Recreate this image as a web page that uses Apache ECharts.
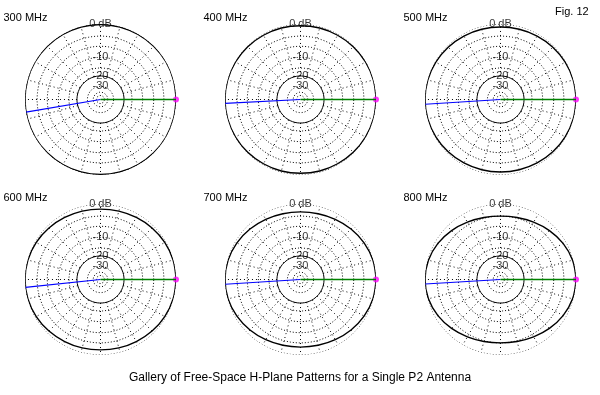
<!DOCTYPE html>
<html><head><meta charset="utf-8">
<script src="https://cdn.jsdelivr.net/npm/echarts@6/dist/echarts.min.js"></script>
<style>html,body{margin:0;padding:0;background:#fff}#c{width:600px;height:395px}</style>
</head><body><div id="c"></div>
<script>
// ---- data ----
const freqLabels = ['300 MHz','400 MHz','500 MHz','600 MHz','700 MHz','800 MHz'];
const patternAngles = [0,15,30,45,60,75,90,105,120,135,150,165,180,195,210,225,240,255,270,285,300,315,330,345,360];
// gain in dB (relative to max) read at each angle
const gain300 = [0,0,0,-0.05,-0.1,-0.1,-0.1,-0.1,-0.1,-0.05,0,0,0,0,0,-0.05,-0.1,-0.1,-0.1,-0.1,-0.1,-0.05,0,0,0];
const gain400 = [0,-0.02,-0.1,-0.2,-0.3,-0.35,-0.4,-0.35,-0.3,-0.2,-0.1,-0.02,0,-0.02,-0.1,-0.2,-0.3,-0.35,-0.4,-0.35,-0.3,-0.2,-0.1,-0.02,0];
const gain500 = [0,-0.05,-0.18,-0.35,-0.52,-0.65,-0.7,-0.65,-0.52,-0.35,-0.18,-0.05,0,-0.05,-0.18,-0.35,-0.52,-0.65,-0.7,-0.65,-0.52,-0.35,-0.18,-0.05,0];
const gain600 = [0,-0.08,-0.3,-0.6,-0.9,-1.1,-1.2,-1.1,-0.9,-0.6,-0.3,-0.08,0,-0.08,-0.3,-0.6,-0.9,-1.1,-1.2,-1.1,-0.9,-0.6,-0.3,-0.08,0];
const gain700 = [0,-0.13,-0.48,-0.95,-1.42,-1.77,-1.9,-1.77,-1.42,-0.95,-0.48,-0.13,0,-0.13,-0.48,-0.95,-1.42,-1.77,-1.9,-1.77,-1.42,-0.95,-0.48,-0.13,0];
const gain800 = [0,-0.2,-0.75,-1.5,-2.25,-2.8,-3.0,-2.8,-2.25,-1.5,-0.75,-0.2,0,-0.2,-0.75,-1.5,-2.25,-2.8,-3.0,-2.8,-2.25,-1.5,-0.75,-0.2,0];
const gains = [gain300,gain400,gain500,gain600,gain700,gain800];
const blueAngles = [189.6,183,183.6,186,183.6,183.4];   // blue cursor line direction, deg
const maxAngle = 0;                                      // direction of maximum gain, deg
const ringDb = [0,-3,-6,-10,-15,-20,-30,-40,-50];
const solidRingDb = -20;
const ringLabels = [{db:0,text:'0 dB'},{db:-10,text:'-10'},{db:-20,text:'-20'},{db:-30,text:'-30'}];
const spokeStep = 15;
const spokeInnerDb = -20;
const mainTitle = 'Gallery of Free-Space H-Plane Patterns for a Single P2 Antenna';
const figLabel = 'Fig. 12';

// ARRL log scale: radius factor 0.89 per 2 dB
const arrl = db => Math.pow(0.89, -db / 2);

const centersX = [100.5, 300.5, 500.5];
const centersY = [99.5, 279.5];
const R = 75.5;
const FONT = 'Liberation Sans, Arial, sans-serif';

const polar = [], angleAxis = [], radiusAxis = [], series = [], title = [];
gains.forEach((g, i) => {
  const cx = centersX[i % 3], cy = centersY[Math.floor(i / 3)];
  polar.push({center: [cx, cy], radius: R});
  angleAxis.push({polarIndex: i, type: 'value', min: 0, max: 360, startAngle: 0, clockwise: false,
    axisLine: {show: false}, axisTick: {show: false}, axisLabel: {show: false}, splitLine: {show: false}});
  radiusAxis.push({polarIndex: i, type: 'value', min: 0, max: 1,
    axisLine: {show: false}, axisTick: {show: false}, axisLabel: {show: false}, splitLine: {show: false}});
  // rings
  ringDb.forEach(db => {
    const pts = [];
    for (let a = 0; a <= 360; a += 1) pts.push([arrl(db), a]);
    series.push({type: 'line', coordinateSystem: 'polar', polarIndex: i, data: pts, symbol: 'none', silent: true,
      animation: false, z: 1,
      lineStyle: {color: '#000', width: 1, type: db === solidRingDb ? 'solid' : [1, 2]}});
  });
  // spokes
  for (let a = 0; a < 360; a += spokeStep) {
    series.push({type: 'line', coordinateSystem: 'polar', polarIndex: i, symbol: 'none', silent: true, animation: false, z: 1,
      data: [[arrl(spokeInnerDb), a], [1, a]], lineStyle: {color: '#000', width: 1, type: [1, 3]}});
  }
  // pattern
  series.push({type: 'line', coordinateSystem: 'polar', polarIndex: i, symbol: 'none', smooth: 0.4, animation: false, z: 3,
    data: g.map((v, k) => [arrl(v), patternAngles[k]]), lineStyle: {color: '#000', width: 1.4}});
  // blue line
  const bGain = g[Math.round((blueAngles[i] % 360) / 15)];
  series.push({type: 'line', coordinateSystem: 'polar', polarIndex: i, symbol: 'none', animation: false, z: 8,
    data: [[0, blueAngles[i]], [arrl(bGain), blueAngles[i]]], lineStyle: {color: '#0000ff', width: 1.2}});
  // max marker
  series.push({type: 'scatter', coordinateSystem: 'polar', polarIndex: i, animation: false, z: 9,
    data: [[arrl(g[0]), maxAngle]], symbol: 'circle', symbolSize: 6, itemStyle: {color: '#ff00ff'}});
  series.push({type: 'line', coordinateSystem: 'polar', polarIndex: i, symbol: 'none', animation: false, z: 10,
    data: [[0, maxAngle], [arrl(g[0]), maxAngle]], lineStyle: {color: '#008000', width: 1.3}});
  // ring labels
  series.push({type: 'scatter', coordinateSystem: 'polar', polarIndex: i, animation: false, z: 6, silent: true,
    symbolSize: 1, itemStyle: {color: 'rgba(0,0,0,0)'},
    data: ringLabels.map(l => ({value: [arrl(l.db), 90], name: l.text})),
    label: {show: true, position: 'inside', formatter: p => p.name, color: '#000', fontSize: 11, fontFamily: FONT}});
  title.push({text: freqLabels[i], left: cx - 97, top: cy - 87,
    textStyle: {fontSize: 11, fontWeight: 'normal', color: '#000', fontFamily: FONT}, padding: 0});
});
title.push({text: figLabel, left: 555, top: 6, padding: 0, textStyle: {fontSize: 11, fontWeight: 'normal', color: '#000', fontFamily: FONT}});
title.push({text: mainTitle, left: 'center', top: 372, padding: 0, textStyle: {fontSize: 12, fontWeight: 'normal', color: '#000', fontFamily: FONT}});

const chart = echarts.init(document.getElementById('c'));
chart.setOption({backgroundColor: '#fff', animation: false, title, polar, angleAxis, radiusAxis, series});
</script></body></html>
